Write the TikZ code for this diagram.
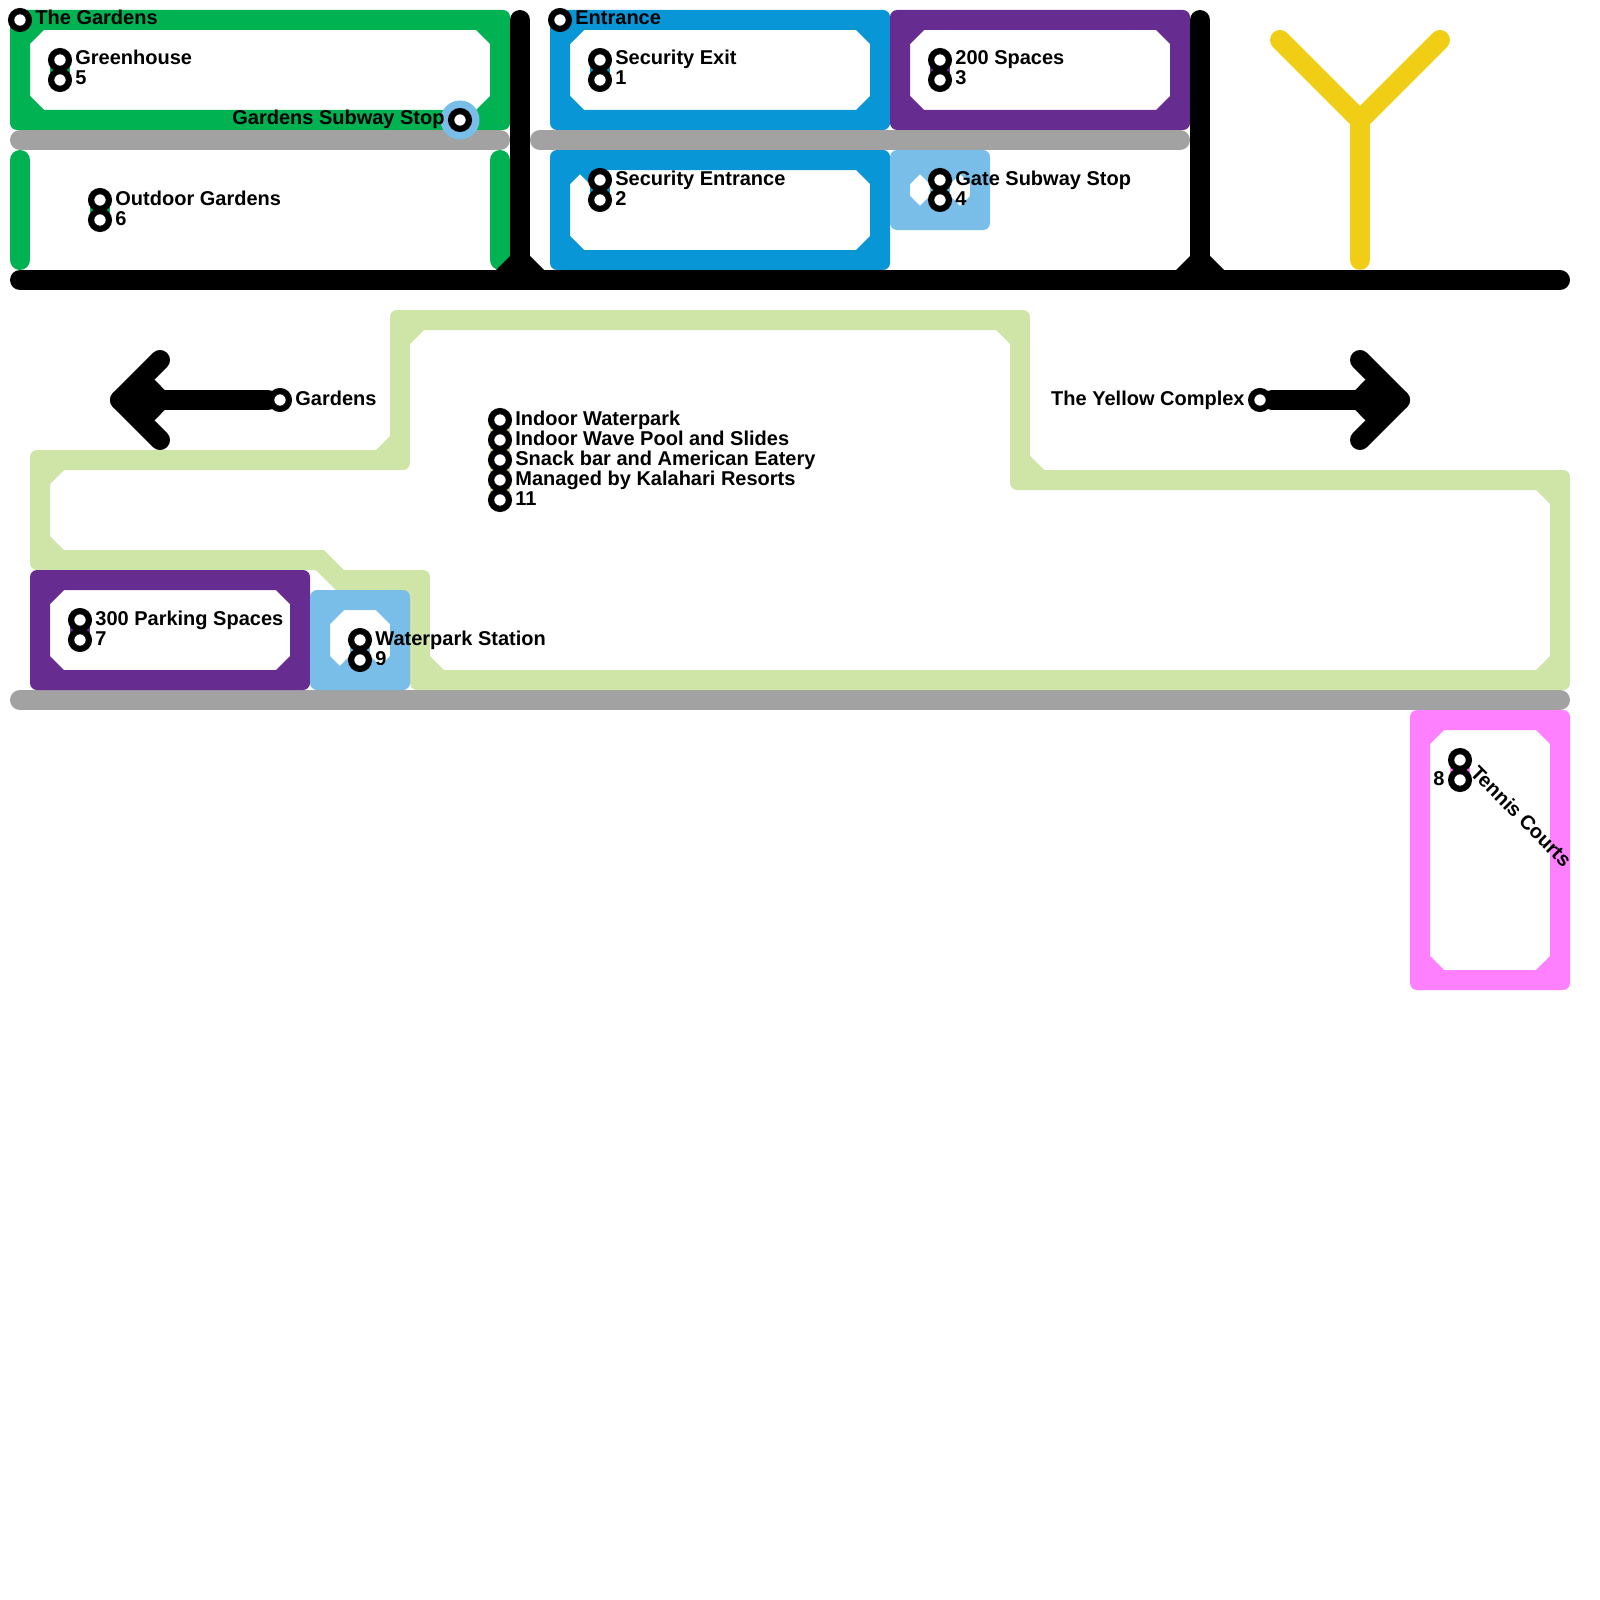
\documentclass[tikz,border=0pt]{standalone}
\usepackage{fontspec}
\setmainfont{Liberation Sans}
\usetikzlibrary{backgrounds}

\definecolor{linegreen}{HTML}{00B251}
\definecolor{lineblue}{HTML}{0896D7}
\definecolor{linepurple}{HTML}{662C90}
\definecolor{linesky}{HTML}{79BDE9}
\definecolor{linesilver}{HTML}{A2A2A2}
\definecolor{linelime}{HTML}{CFE4A7}
\definecolor{lineyellow}{HTML}{F0CE15}
\definecolor{linepink}{HTML}{FF80FF}

\tikzset{
    metroline/.style={line width=10pt, line cap=round, line join=round},
    stationlink/.style={line width=10pt},
    softcorner/.style={rounded corners=3.5pt},
    station/.style={circle, draw=black, fill=white, line width=3.1pt, minimum size=8.9pt, inner sep=0pt},
    stationlabel/.style={font=\bfseries, inner sep=0pt, anchor=base west},
}

% closed loop: colour, then the two opposite corners of its centre line
\newcommand{\roomloop}[5]{
    \fill[#1, even odd rule]
        [softcorner] (#2-0.5, #3-0.5) rectangle (#4+0.5, #5+0.5)
        [sharp corners] (#2+1.2, #3+0.5) -- (#4-1.2, #3+0.5) -- (#4-0.5, #3+1.2)
        -- (#4-0.5, #5-1.2) -- (#4-1.2, #5-0.5) -- (#2+1.2, #5-0.5)
        -- (#2+0.5, #5-1.2) -- (#2+0.5, #3+1.2) -- cycle;
}

\begin{document}
\begin{tikzpicture}[x=10pt, y=-10pt]

    \useasboundingbox (0, 0) rectangle (80, 80);

    \begin{pgfonlayer}{background}
    % the gardens
    \roomloop{linegreen}{1}{1}{25}{6}
    \draw[metroline, linegreen] (1, 8) -- (1, 13);
    \draw[metroline, linegreen] (25, 8) -- (25, 13);

    % entrance block
    \roomloop{lineblue}{28}{1}{44}{6}
    \roomloop{lineblue}{28}{8}{44}{13}
    \roomloop{linepurple}{45}{1}{59}{6}
    \roomloop{linesky}{45}{8}{49}{11}

    % silver rows
    \draw[metroline, linesilver] (1, 7) -- (25, 7);
    \draw[metroline, linesilver] (27, 7) -- (59, 7);
    \draw[metroline, linesilver] (1, 35) -- (78, 35);

    % black frame with its junction corners
    \draw[metroline, black] (1, 14) -- (78, 14);
    \draw[metroline, black] (26, 1) -- (26, 14);
    \draw[metroline, black] (60, 1) -- (60, 14);
    \fill[black] (24.8, 13.5) -- (25.5, 12.8) -- (25.5, 13.5) -- cycle;
    \fill[black] (27.2, 13.5) -- (26.5, 12.8) -- (26.5, 13.5) -- cycle;
    \fill[black] (58.8, 13.5) -- (59.5, 12.8) -- (59.5, 13.5) -- cycle;
    \fill[black] (61.2, 13.5) -- (60.5, 12.8) -- (60.5, 13.5) -- cycle;

    % yellow complex
    \draw[metroline, lineyellow] (64, 2) -- (68, 6) -- (72, 2);
    \draw[metroline, lineyellow] (68, 6) -- (68, 13);

    % waterpark outline
    \fill[linelime, even odd rule]
        (52.2, 23.5) [softcorner] -- (78.5, 23.5) -- (78.5, 34.5) -- (20.5, 34.5)
        [sharp corners] -- (20.5, 30.2) -- (19.8, 29.5) -- (16.8, 29.5) -- (15.8, 28.5)
        [softcorner] -- (1.5, 28.5) -- (1.5, 22.5)
        [sharp corners] -- (18.8, 22.5) -- (19.5, 21.8)
        [softcorner] -- (19.5, 15.5) -- (51.5, 15.5)
        [sharp corners] -- (51.5, 22.8) -- cycle
        (21.2, 16.5) -- (49.8, 16.5) -- (50.5, 17.2)
        [softcorner] -- (50.5, 24.5)
        [sharp corners] -- (76.8, 24.5) -- (77.5, 25.2) -- (77.5, 32.8) -- (76.8, 33.5)
        -- (22.2, 33.5) -- (21.5, 32.8)
        [softcorner] -- (21.5, 28.5)
        [sharp corners] -- (17.2, 28.5) -- (16.2, 27.5) -- (3.2, 27.5) -- (2.5, 26.8)
        -- (2.5, 24.2) -- (3.2, 23.5)
        [softcorner] -- (20.5, 23.5)
        [sharp corners] -- (20.5, 17.2) -- cycle;
    \roomloop{linepurple}{2}{29}{15}{34}
    \roomloop{linesky}{16}{30}{20}{34}

    % tennis
    \roomloop{linepink}{71}{36}{78}{49}

    % halo of the subway stop
    \fill[linesky] (23, 6) circle (9.75pt);
    \end{pgfonlayer}

    % the gardens stations
    \node[station] (gardens) at (1, 1) {};
    \node[stationlabel] (gardenslabel) at (1.75, 1.25) {The Gardens};
    \node[station] (greenhouse) at (3, 3) {};
    \node[station] (greenhousenum) at (3, 4) {};
    \node[stationlabel] (greenhouselabel) at (3.75, 3.25) {Greenhouse};
    \node[stationlabel] (greenhousenumlabel) at (3.75, 4.25) {5};
    \node[station] (outdoor) at (5, 10) {};
    \node[station] (outdoornum) at (5, 11) {};
    \node[stationlabel] (outdoorlabel) at (5.75, 10.25) {Outdoor Gardens};
    \node[stationlabel] (outdoornumlabel) at (5.75, 11.25) {6};
    \node[station] (gardenstop) at (23, 6) {};
    \node[stationlabel, anchor=base east] (gardenstoplabel) at (22.25, 6.25) {Gardens Subway Stop};

    % entrance block stations
    \node[station] (entrance) at (28, 1) {};
    \node[stationlabel] (entrancelabel) at (28.75, 1.25) {Entrance};
    \node[station] (secexit) at (30, 3) {};
    \node[station] (secexitnum) at (30, 4) {};
    \node[stationlabel] (secexitlabel) at (30.75, 3.25) {Security Exit};
    \node[stationlabel] (secexitnumlabel) at (30.75, 4.25) {1};
    \node[station] (secentry) at (30, 9) {};
    \node[station] (secentrynum) at (30, 10) {};
    \node[stationlabel] (secentrylabel) at (30.75, 9.25) {Security Entrance};
    \node[stationlabel] (secentrynumlabel) at (30.75, 10.25) {2};
    \node[station] (spaces) at (47, 3) {};
    \node[station] (spacesnum) at (47, 4) {};
    \node[stationlabel] (spaceslabel) at (47.75, 3.25) {200 Spaces};
    \node[stationlabel] (spacesnumlabel) at (47.75, 4.25) {3};
    \node[station] (gatestop) at (47, 9) {};
    \node[station] (gatestopnum) at (47, 10) {};
    \node[stationlabel] (gatestoplabel) at (47.75, 9.25) {Gate Subway Stop};
    \node[stationlabel] (gatestopnumlabel) at (47.75, 10.25) {4};

    % arrows
    \node[station] (gardensexit) at (14, 20) {};
    \node[stationlabel] (gardensexitlabel) at (14.75, 20.25) {Gardens};
    \node[station] (yellowexit) at (63, 20) {};
    \node[stationlabel, anchor=base east] (yellowexitlabel) at (62.25, 20.25) {The Yellow Complex};
    \coordinate (gardenstip) at (6, 20);
    \coordinate (yellowtip) at (70, 20);

    % waterpark stations
    \node[station] (wpone) at (25, 21) {};
    \node[station] (wptwo) at (25, 22) {};
    \node[station] (wpthree) at (25, 23) {};
    \node[station] (wpfour) at (25, 24) {};
    \node[station] (wpfive) at (25, 25) {};
    \node[stationlabel] (wponelabel) at (25.75, 21.25) {Indoor Waterpark};
    \node[stationlabel] (wptwolabel) at (25.75, 22.25) {Indoor Wave Pool and Slides};
    \node[stationlabel] (wpthreelabel) at (25.75, 23.25) {Snack bar and American Eatery};
    \node[stationlabel] (wpfourlabel) at (25.75, 24.25) {Managed by Kalahari Resorts};
    \node[stationlabel] (wpfivelabel) at (25.75, 25.25) {11};
    \node[station] (parking) at (4, 31) {};
    \node[station] (parkingnum) at (4, 32) {};
    \node[stationlabel] (parkinglabel) at (4.75, 31.25) {300 Parking Spaces};
    \node[stationlabel] (parkingnumlabel) at (4.75, 32.25) {7};
    \node[station] (wpstation) at (18, 32) {};
    \node[station] (wpstationnum) at (18, 33) {};
    \node[stationlabel] (wpstationlabel) at (18.75, 32.25) {Waterpark Station};
    \node[stationlabel] (wpstationnumlabel) at (18.75, 33.25) {9};

    % tennis stations
    \node[station] (tennis) at (73, 38) {};
    \node[station] (tennisnum) at (73, 39) {};
    \node[stationlabel, rotate=-45] (tennislabel) at (73.45, 38.7) {Tennis Courts};
    \node[stationlabel, anchor=base east] (tennisnumlabel) at (72.25, 39.25) {8};

    % free ends of the links, on the loops
    \coordinate (secentrynw) at (29, 8);
    \coordinate (gatenw) at (46, 8);
    \coordinate (gatene) at (48, 8);
    \coordinate (gatesw) at (46, 11);
    \coordinate (gatese) at (48, 11);
    \coordinate (wpstationsw) at (17, 34);
    \coordinate (wpstationse) at (19, 34);

    % links under the stations
    \begin{pgfonlayer}{background}
    \draw[stationlink, linegreen] (greenhouse.center) -- (greenhousenum.center);
    \draw[stationlink, linegreen] (outdoor.center) -- (outdoornum.center);
    \draw[stationlink, lineblue] (secexit.center) -- (secexitnum.center);
    \draw[stationlink, lineblue] (secentry.center) -- (secentrynum.center);
    \draw[stationlink, lineblue] (secentrynw) -- (secentry.center);
    \draw[stationlink, linepurple] (spaces.center) -- (spacesnum.center);
    \draw[stationlink, linesky] (gatestop.center) -- (gatestopnum.center);
    \draw[stationlink, linesky] (gatenw) -- (gatestop.center);
    \draw[stationlink, linesky] (gatene) -- (gatestop.center);
    \draw[stationlink, linesky] (gatesw) -- (gatestopnum.center);
    \draw[stationlink, linesky] (gatese) -- (gatestopnum.center);
    \draw[stationlink, linelime] (wpone.center) -- (wpfive.center);
    \draw[stationlink, linepurple] (parking.center) -- (parkingnum.center);
    \draw[stationlink, linesky] (wpstation.center) -- (wpstationnum.center);
    \draw[stationlink, linesky] (wpstationsw) -- (wpstationnum.center);
    \draw[stationlink, linesky] (wpstationse) -- (wpstationnum.center);
    \draw[stationlink, linepink] (tennis.center) -- (tennisnum.center);

    % arrow shafts and heads
    \draw[metroline, black] (gardensexit) -- (gardenstip);
    \draw[metroline, black] (8, 18) -- (gardenstip) -- (8, 22);
    \fill[black] (6.5, 19) -- (7.75, 19) -- (8.23, 19.5) -- (8.23, 20.5) -- (7.75, 21) -- (6.5, 21) -- cycle;
    \draw[metroline, black] (yellowexit) -- (yellowtip);
    \draw[metroline, black] (68, 18) -- (yellowtip) -- (68, 22);
    \fill[black] (69.5, 19) -- (68.25, 19) -- (67.77, 19.5) -- (67.77, 20.5) -- (68.25, 21) -- (69.5, 21) -- cycle;
    \end{pgfonlayer}

\end{tikzpicture}
\end{document}
